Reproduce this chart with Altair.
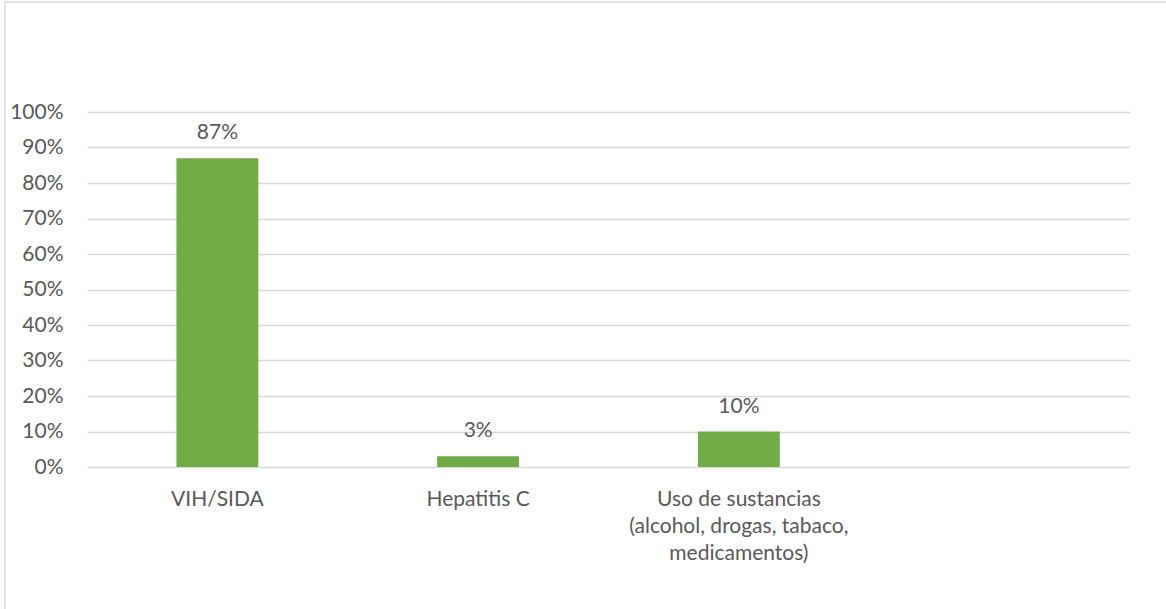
import altair as alt
import pandas as pd

categories = ["VIH/SIDA", "Hepatitis C", "Uso de sustancias\n(alcohol, drogas, tabaco,\nmedicamentos)", " "]
values = [0.87, 0.03, 0.10, None]
y_ticks = [0, 0.1, 0.2, 0.3, 0.4, 0.5, 0.6, 0.7, 0.8, 0.9, 1.0]

df = pd.DataFrame({"categoria": categories, "valor": values})
df_bars = df.dropna()

FONT = "Lato"
TXT = "#595959"
FS = 21
W, H = 1043, 355

x_scale = alt.Scale(domain=categories, paddingInner=0.686, paddingOuter=0.343)
y_scale = alt.Scale(domain=[0, 1], nice=False)

x_enc = alt.X("categoria:N", sort=categories, scale=x_scale,
              axis=alt.Axis(title=None, labelAngle=0, ticks=False, domain=False, grid=False,
                            labelExpr="split(datum.label, '\\n')", labelPadding=21,
                            labelLineHeight=27, labelFontSize=FS, labelColor=TXT,
                            labelFont=FONT, labelBaseline="top", labelLimit=0,
                            labelOverlap=False))
y_enc = alt.Y("valor:Q", scale=y_scale,
              axis=alt.Axis(title=None, values=y_ticks, format=".0%", ticks=False, domain=False,
                            gridColor="#D9D9D9", gridWidth=1.3, labelPadding=24,
                            labelFontSize=FS, labelColor=TXT, labelFont=FONT,
                            labelOverlap=False, labelFlush=False))

bars = alt.Chart(df_bars).mark_bar(color="#70AD47").encode(x=x_enc, y=y_enc)
labels = alt.Chart(df_bars).mark_text(dy=-15, baseline="bottom", font=FONT, fontSize=FS,
                                       color=TXT).encode(
    x=x_enc, y=y_enc,
    text=alt.Text("valor:Q", format=".0%"))

frame = alt.Chart(pd.DataFrame({"a": [0]})).mark_rect(fill=None, stroke="#D9D9D9", strokeWidth=1.5).encode(
    x=alt.value(-82), x2=alt.value(1166 - 87 + 5), y=alt.value(-110), y2=alt.value(609 - 112 + 5))

chart = alt.layer(frame, bars, labels).properties(
    width=W, height=H,
    autosize=alt.AutoSizeParams(type="none"),
    padding={"left": 87, "top": 112, "right": 36, "bottom": 142},
).configure(background="white").configure_view(stroke=None)

chart.save("out.html", embed_options={"renderer": "svg", "actions": False})
